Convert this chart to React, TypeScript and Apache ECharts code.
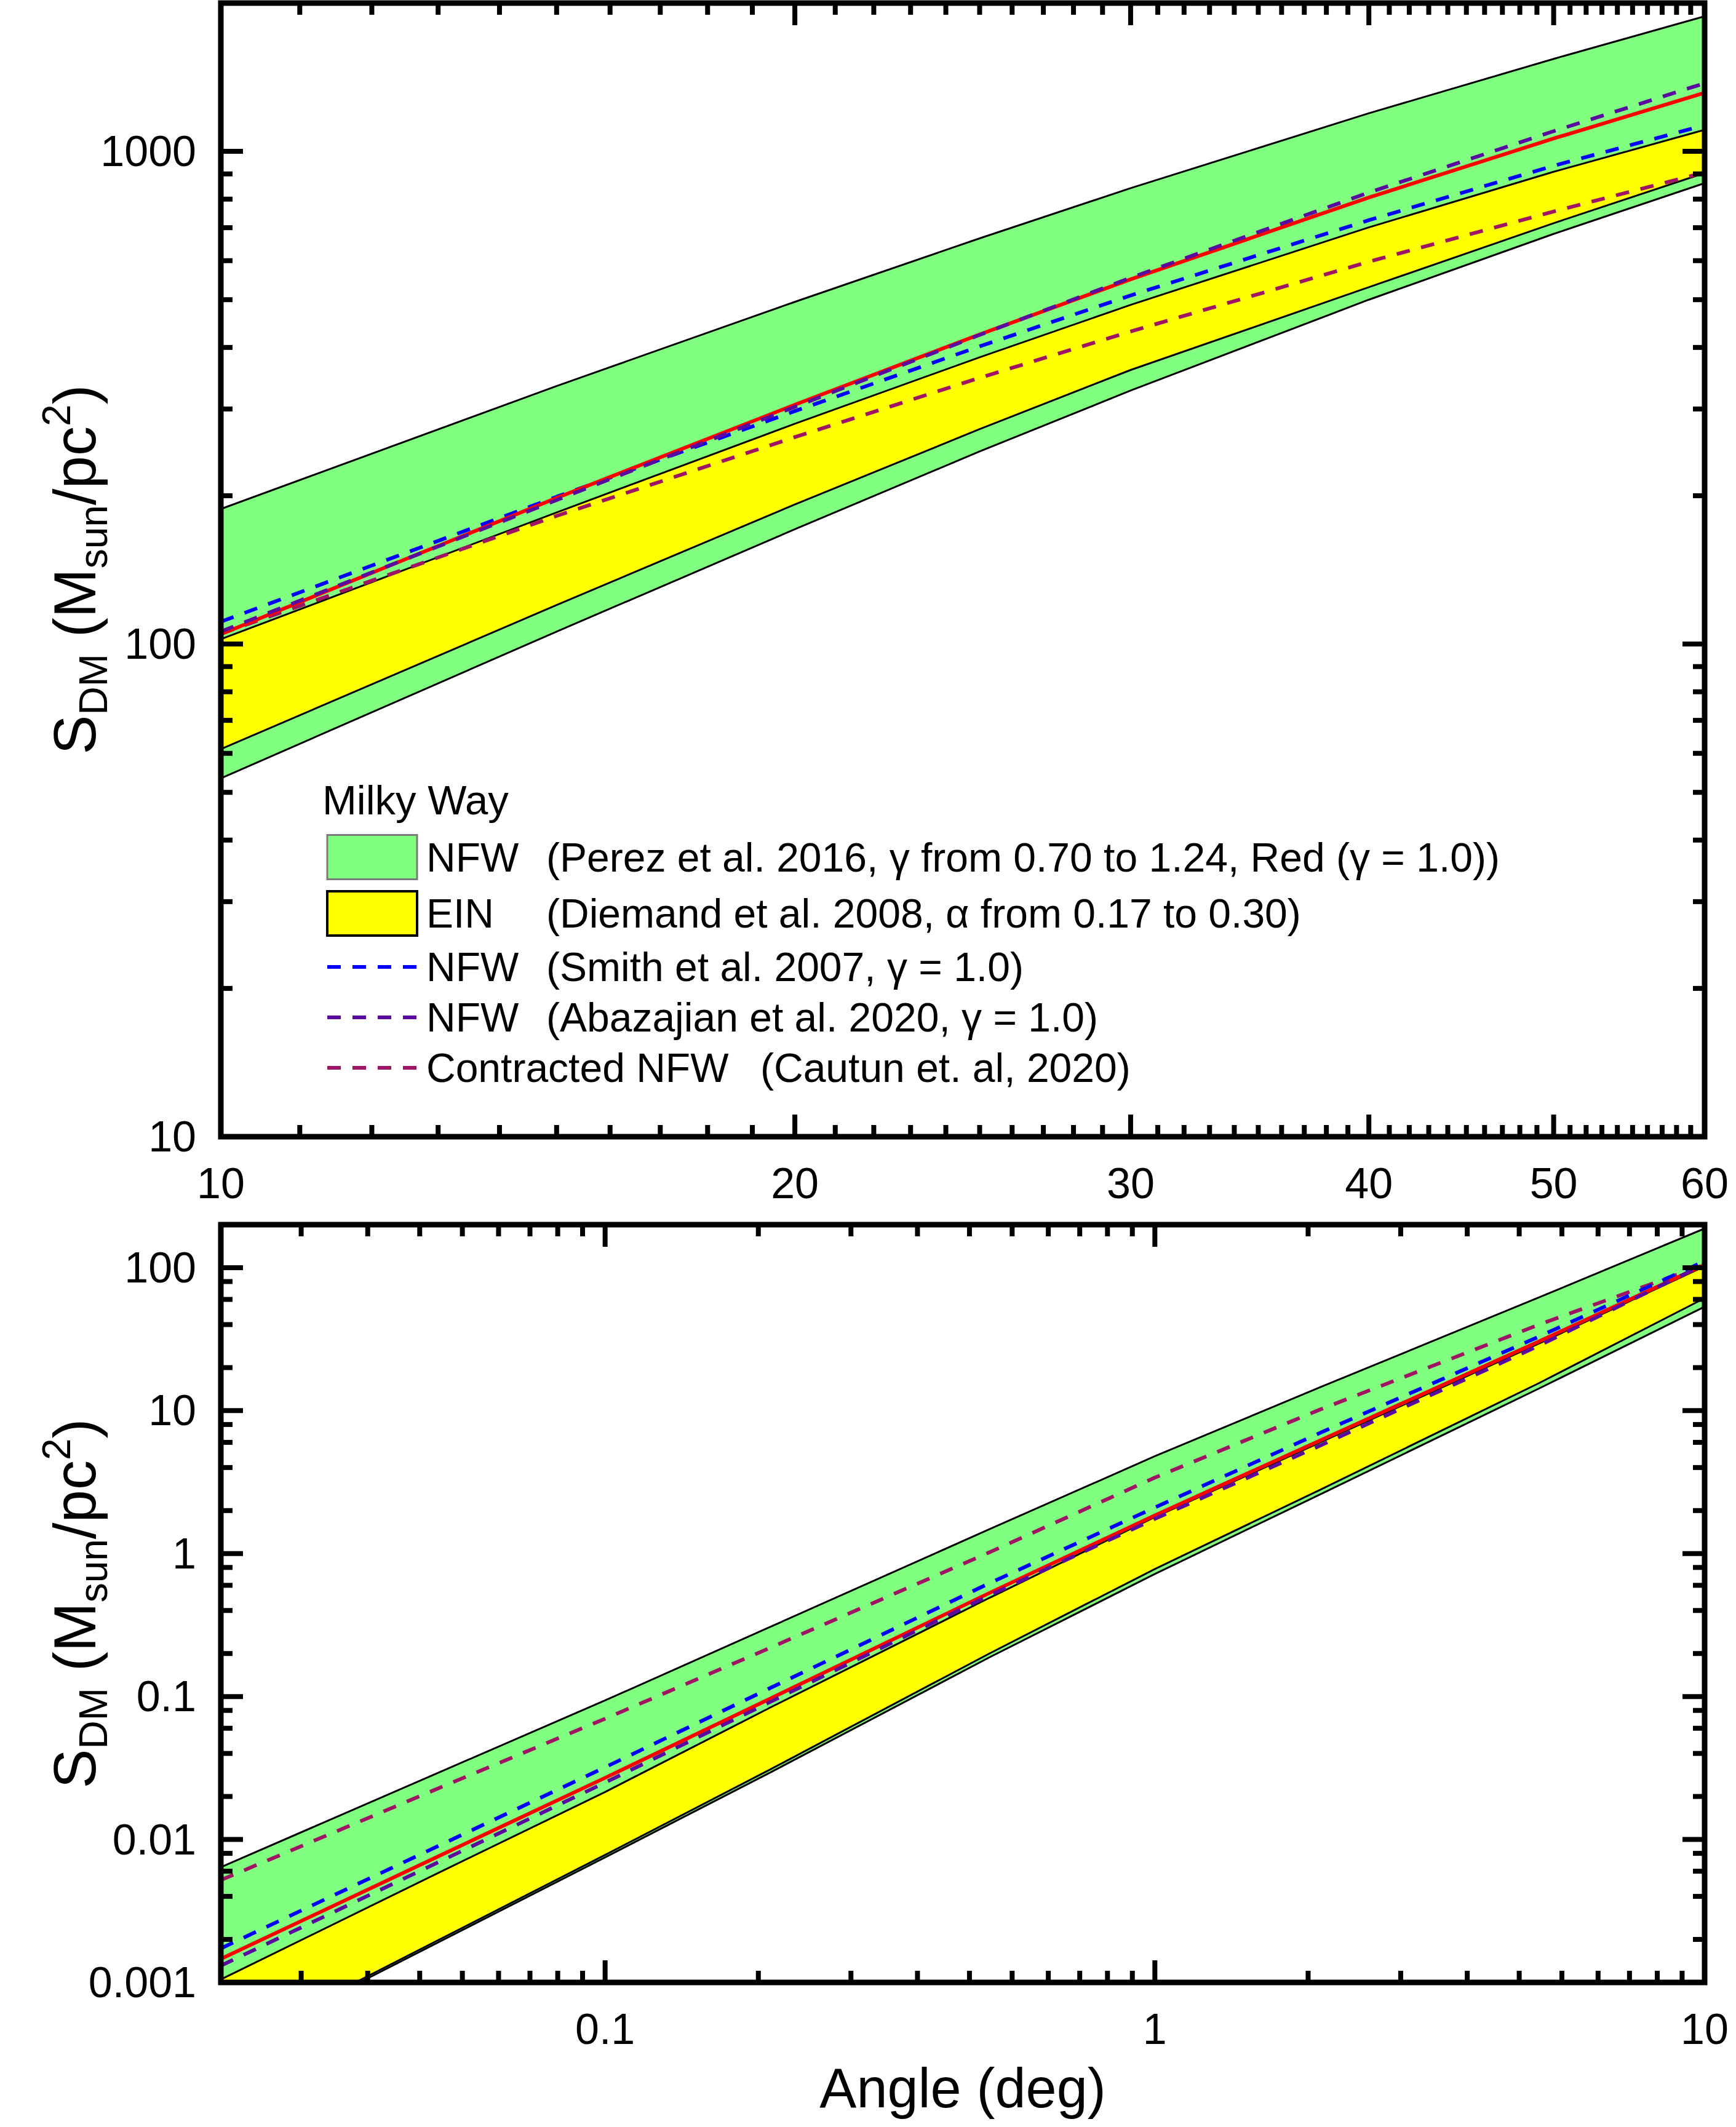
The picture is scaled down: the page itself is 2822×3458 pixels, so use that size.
import React, { useEffect, useRef } from 'react';
import * as echarts from 'echarts';

const FONT = "'Liberation Sans', Arial, Helvetica, sans-serif";

// ---------- top panel (10-60 deg) ----------
const topAngle = [10, 15, 20, 25, 30, 40, 50, 60];
const topNfwHigh = [188, 334, 495, 666, 842, 1195, 1541, 1880];
const topNfwLow = [53.4, 106, 171, 246, 327, 500, 680, 862];
const topEinHigh = [102.3, 185, 280, 382, 488, 701, 909, 1106];
const topEinLow = [61.2, 120, 192, 273, 360, 530, 715, 904];
const topRed = [104.7, 198, 306, 425, 550, 806, 1062, 1315];
const topSmith = [111, 199, 297, 402, 510, 725, 935, 1130];
const topAbaz = [106, 196, 303, 424, 554, 825, 1099, 1375];
const topCautun = [105, 182, 263, 347, 431, 597, 755, 906];

// ---------- bottom panel (0.02-10 deg) ----------
const botAngle = [0.02, 0.05, 0.1, 0.2, 0.5, 1, 2, 5, 10];
const botNfwHigh = [0.0064, 0.0296, 0.094, 0.308, 1.48, 4.8, 14.6, 62, 188];
const botNfwLow = [0.00032, 0.00193, 0.0075, 0.0295, 0.188, 0.72, 2.6, 14.3, 53.4];
const botEinHigh = [0.00105, 0.0059, 0.0215, 0.084, 0.49, 1.8, 6.0, 29.5, 102.3];
const botEinLow = [0.00033, 0.002, 0.0078, 0.031, 0.2, 0.78, 2.8, 15.6, 61.2];
const botRed = [0.00146, 0.0077, 0.027, 0.097, 0.53, 1.85, 6.2, 30.5, 104.7];
const botSmith = [0.00173, 0.0091, 0.032, 0.115, 0.62, 2.1, 7.0, 33, 111];
const botAbaz = [0.00131, 0.007, 0.025, 0.092, 0.51, 1.75, 5.7, 28.5, 106];
const botCautun = [0.0052, 0.023, 0.07, 0.22, 1.02, 3.4, 10.2, 40, 105];

// ---------- axes ----------
const topXMin = 10, topXMax = 60, topYMin = 10, topYMax = 2000;
const botXMin = 0.02, botXMax = 10, botYMin = 0.001, botYMax = 200;

const topXMajor = [10, 20, 30, 40, 50, 60];
const topXLabels = ['10', '20', '30', '40', '50', '60'];
const topXMinor = [11, 12, 13, 14, 15, 16, 17, 18, 19, 21, 22, 23, 24, 25, 26, 27, 28, 29,
  31, 32, 33, 34, 35, 36, 37, 38, 39, 41, 42, 43, 44, 45, 46, 47, 48, 49,
  51, 52, 53, 54, 55, 56, 57, 58, 59];
const topYMajor = [10, 100, 1000];
const topYLabels = ['10', '100', '1000'];
const topYMinor = [20, 30, 40, 50, 60, 70, 80, 90, 200, 300, 400, 500, 600, 700, 800, 900];

const botXMajor = [0.1, 1, 10];
const botXLabels = ['0.1', '1', '10'];
const botXMinor = [0.028, 0.037, 0.046, 0.055, 0.064, 0.073, 0.082, 0.091,
  0.19, 0.28, 0.37, 0.46, 0.55, 0.64, 0.73, 0.82, 0.91,
  1.9, 2.8, 3.7, 4.6, 5.5, 6.4, 7.3, 8.2, 9.1];
const botYMajor = [0.001, 0.01, 0.1, 1, 10, 100];
const botYLabels = ['0.001', '0.01', '0.1', '1', '10', '100'];
const botYMinor = [0.002, 0.004, 0.006, 0.008, 0.02, 0.04, 0.06, 0.08, 0.2, 0.4, 0.6, 0.8,
  2, 4, 6, 8, 20, 40, 60, 80];

// ---------- names ----------
const N_NFW = 'NFW  (Perez et al. 2016, γ from 0.70 to 1.24, Red (γ = 1.0))';
const N_EIN = 'EIN    (Diemand et al. 2008, α from 0.17 to 0.30)';
const N_SMITH = 'NFW  (Smith et al. 2007, γ = 1.0)';
const N_ABAZ = 'NFW  (Abazajian et al. 2020, γ = 1.0)';
const N_CAUTUN = 'Contracted NFW  (Cautun et. al, 2020)';

const C_GREEN = '#80FF80';
const C_YELLOW = '#FFFF00';
const C_RED = '#FF0000';
const C_BLUE = '#0000FF';
const C_PURPLE = '#5A0A9E';
const C_CRIMSON = '#A01464';
const DASH = [22, 19];

const TICK_W = 8;
const MAJOR_LEN = 36;
const MINOR_LEN = 19;
const LABEL_SIZE = 70;
const LEGEND_SIZE = 66;

function pairs(xs: number[], ys: number[]) {
  return xs.map((x, i) => [x, ys[i]]);
}

function bandSeries(name: string, xs: number[], hi: number[], lo: number[], color: string,
  borderColor: string, borderWidth: number, gi: number) {
  return {
    type: 'custom',
    name,
    xAxisIndex: gi,
    yAxisIndex: gi,
    silent: true,
    z: 2,
    data: xs.map((x, i) => [x, hi[i], lo[i]]),
    encode: { x: 0, y: [1, 2] },
    itemStyle: { color, borderColor, borderWidth },
    renderItem: (params: any, api: any) => {
      if (params.dataIndex !== 0) return null;
      const n = xs.length;
      const pts: number[][] = [];
      for (let i = 0; i < n; i++) pts.push(api.coord([api.value(0, i), api.value(1, i)]));
      for (let i = n - 1; i >= 0; i--) pts.push(api.coord([api.value(0, i), api.value(2, i)]));
      const cs = params.coordSys;
      return {
        type: 'polygon',
        shape: { points: pts },
        style: { fill: color },
        clipPath: { type: 'rect', shape: { x: cs.x, y: cs.y, width: cs.width, height: cs.height } },
      };
    },
  };
}

function edgeSeries(xs: number[], ys: number[], gi: number) {
  return {
    type: 'line',
    xAxisIndex: gi,
    yAxisIndex: gi,
    data: pairs(xs, ys),
    symbol: 'none',
    silent: true,
    clip: true,
    z: 3,
    lineStyle: { color: '#000', width: 3 },
  };
}

function curveSeries(name: string, xs: number[], ys: number[], color: string, dashed: boolean, gi: number) {
  return {
    type: 'line',
    name,
    xAxisIndex: gi,
    yAxisIndex: gi,
    data: pairs(xs, ys),
    symbol: 'none',
    silent: true,
    clip: true,
    z: 4,
    itemStyle: { color },
    lineStyle: { color, width: 6, type: dashed ? DASH : 'solid' },
  };
}

function xTicks(gi: number, values: number[], len: number, yMin: number, yMax: number, labels?: string[]) {
  return {
    type: 'custom',
    xAxisIndex: gi,
    yAxisIndex: gi,
    silent: true,
    z: 6,
    data: values.map((v) => [v, yMin]),
    encode: { x: 0, y: 1 },
    renderItem: (params: any, api: any) => {
      const v = api.value(0);
      const b = api.coord([v, yMin]);
      const t = api.coord([v, yMax]);
      const st = { stroke: '#000', lineWidth: TICK_W };
      const kids: any[] = [
        { type: 'line', shape: { x1: b[0], y1: b[1], x2: b[0], y2: b[1] - len }, style: st },
        { type: 'line', shape: { x1: t[0], y1: t[1], x2: t[0], y2: t[1] + len }, style: st },
      ];
      if (labels) {
        kids.push({
          type: 'text',
          x: b[0],
          y: b[1] + 76,
          style: {
            text: labels[params.dataIndex], fontSize: LABEL_SIZE, fontFamily: FONT, fill: '#000',
            align: 'center', verticalAlign: 'middle',
          },
        });
      }
      return { type: 'group', children: kids };
    },
  };
}

function yTicks(gi: number, values: number[], len: number, xMin: number, xMax: number, labels?: string[]) {
  return {
    type: 'custom',
    xAxisIndex: gi,
    yAxisIndex: gi,
    silent: true,
    z: 6,
    data: values.map((v) => [xMin, v]),
    encode: { x: 0, y: 1 },
    renderItem: (params: any, api: any) => {
      const v = api.value(1);
      const l = api.coord([xMin, v]);
      const r = api.coord([xMax, v]);
      const st = { stroke: '#000', lineWidth: TICK_W };
      const kids: any[] = [
        { type: 'line', shape: { x1: l[0], y1: l[1], x2: l[0] + len, y2: l[1] }, style: st },
        { type: 'line', shape: { x1: r[0], y1: r[1], x2: r[0] - len, y2: r[1] }, style: st },
      ];
      if (labels) {
        kids.push({
          type: 'text',
          x: l[0] - 40,
          y: l[1],
          style: {
            text: labels[params.dataIndex], fontSize: LABEL_SIZE, fontFamily: FONT, fill: '#000',
            align: 'right', verticalAlign: 'middle',
          },
        });
      }
      return { type: 'group', children: kids };
    },
  };
}

const hiddenAxis = {
  show: false,
  axisLine: { show: false },
  axisTick: { show: false },
  axisLabel: { show: false },
  splitLine: { show: false },
};

const titleRich = {
  m: { fontSize: 96, fontFamily: FONT, fill: '#000' },
  sub: { fontSize: 64, fontFamily: FONT, fill: '#000', padding: [62, 0, 0, 0] },
  sup: { fontSize: 64, fontFamily: FONT, fill: '#000', padding: [0, 0, 58, 0] },
};
const titleText = '{m|S}{sub|DM}{m| (M}{sub|sun}{m|/pc}{sup|2}{m|)}';

function legendFormatter(name: string) {
  const k = name.indexOf('(');
  const head = name.slice(0, k).trim();
  const rest = name.slice(k);
  if (head === 'Contracted NFW') return '{c|' + head + '}{b|' + rest + '}';
  return '{a|' + head + '}{b|' + rest + '}';
}

const hiddenSymbol = { color: 'rgba(0,0,0,0)', opacity: 0, borderWidth: 0 };

const option: any = {
  animation: false,
  backgroundColor: '#ffffff',
  grid: [
    { left: 359, top: 5, width: 2412, height: 1843, show: true, borderColor: '#000', borderWidth: 9, backgroundColor: 'transparent', z: 10 },
    { left: 359, top: 1991, width: 2412, height: 1232, show: true, borderColor: '#000', borderWidth: 9, backgroundColor: 'transparent', z: 10 },
  ],
  xAxis: [
    { type: 'log', logBase: 10, gridIndex: 0, min: topXMin, max: topXMax, ...hiddenAxis },
    { type: 'log', logBase: 10, gridIndex: 1, min: botXMin, max: botXMax, ...hiddenAxis },
  ],
  yAxis: [
    { type: 'log', logBase: 10, gridIndex: 0, min: topYMin, max: topYMax, ...hiddenAxis },
    { type: 'log', logBase: 10, gridIndex: 1, min: botYMin, max: botYMax, ...hiddenAxis },
  ],
  legend: {
    show: true,
    orient: 'vertical',
    left: 524,
    top: 1351,
    itemWidth: 146,
    itemHeight: 72,
    itemGap: 16,
    selectedMode: false,
    lineStyle: { width: 6 },
    data: [
      { name: N_NFW, icon: 'rect', itemStyle: { color: C_GREEN, borderColor: '#7a7a7a', borderWidth: 3 } },
      { name: N_EIN, icon: 'rect', itemStyle: { color: C_YELLOW, borderColor: '#000', borderWidth: 4 } },
      { name: N_SMITH, itemStyle: hiddenSymbol },
      { name: N_ABAZ, itemStyle: hiddenSymbol },
      { name: N_CAUTUN, itemStyle: hiddenSymbol },
    ],
    formatter: legendFormatter,
    textStyle: {
      fontSize: LEGEND_SIZE,
      fontFamily: FONT,
      color: '#000',
      rich: {
        a: { fontSize: LEGEND_SIZE, fontFamily: FONT, color: '#000', width: 195, padding: [0, 0, 0, 10] },
        c: { fontSize: LEGEND_SIZE, fontFamily: FONT, color: '#000', width: 543, padding: [0, 0, 0, 10] },
        b: { fontSize: LEGEND_SIZE, fontFamily: FONT, color: '#000' },
      },
    },
  },
  graphic: [
    {
      type: 'text', x: 524, y: 1300, silent: true,
      style: { text: 'Milky Way', fontSize: 67, fontFamily: FONT, fill: '#000', align: 'left', verticalAlign: 'middle' },
    },
    {
      type: 'text', x: 121, y: 926, rotation: Math.PI / 2, silent: true,
      style: { text: titleText, rich: titleRich, fontSize: 96, fontFamily: FONT, fill: '#000', align: 'center', verticalAlign: 'middle' },
    },
    {
      type: 'text', x: 121, y: 2607, rotation: Math.PI / 2, silent: true,
      style: { text: titleText, rich: titleRich, fontSize: 96, fontFamily: FONT, fill: '#000', align: 'center', verticalAlign: 'middle' },
    },
    {
      type: 'text', x: 1565, y: 3395, silent: true,
      style: { text: 'Angle (deg)', fontSize: 90, fontFamily: FONT, fill: '#000', align: 'center', verticalAlign: 'middle' },
    },
  ],
  series: [
    // top panel
    bandSeries(N_NFW, topAngle, topNfwHigh, topNfwLow, C_GREEN, '#7a7a7a', 3, 0),
    bandSeries(N_EIN, topAngle, topEinHigh, topEinLow, C_YELLOW, '#000', 4, 0),
    edgeSeries(topAngle, topNfwHigh, 0),
    edgeSeries(topAngle, topNfwLow, 0),
    edgeSeries(topAngle, topEinHigh, 0),
    edgeSeries(topAngle, topEinLow, 0),
    curveSeries(N_CAUTUN, topAngle, topCautun, C_CRIMSON, true, 0),
    curveSeries(N_SMITH, topAngle, topSmith, C_BLUE, true, 0),
    curveSeries('NFW γ = 1.0 (Perez)', topAngle, topRed, C_RED, false, 0),
    curveSeries(N_ABAZ, topAngle, topAbaz, C_PURPLE, true, 0),
    // bottom panel
    bandSeries(N_NFW, botAngle, botNfwHigh, botNfwLow, C_GREEN, '#7a7a7a', 3, 1),
    bandSeries(N_EIN, botAngle, botEinHigh, botEinLow, C_YELLOW, '#000', 4, 1),
    edgeSeries(botAngle, botNfwHigh, 1),
    edgeSeries(botAngle, botNfwLow, 1),
    edgeSeries(botAngle, botEinHigh, 1),
    edgeSeries(botAngle, botEinLow, 1),
    curveSeries(N_CAUTUN, botAngle, botCautun, C_CRIMSON, true, 1),
    curveSeries(N_SMITH, botAngle, botSmith, C_BLUE, true, 1),
    curveSeries('NFW γ = 1.0 (Perez)', botAngle, botRed, C_RED, false, 1),
    curveSeries(N_ABAZ, botAngle, botAbaz, C_PURPLE, true, 1),
    // ticks & labels
    xTicks(0, topXMajor, MAJOR_LEN, topYMin, topYMax, topXLabels),
    xTicks(0, topXMinor, MINOR_LEN, topYMin, topYMax),
    yTicks(0, topYMajor, MAJOR_LEN, topXMin, topXMax, topYLabels),
    yTicks(0, topYMinor, MINOR_LEN, topXMin, topXMax),
    xTicks(1, botXMajor, MAJOR_LEN, botYMin, botYMax, botXLabels),
    xTicks(1, botXMinor, MINOR_LEN, botYMin, botYMax),
    yTicks(1, botYMajor, MAJOR_LEN, botXMin, botXMax, botYLabels),
    yTicks(1, botYMinor, MINOR_LEN, botXMin, botXMax),
  ],
};

export default function App() {
  const ref = useRef<HTMLDivElement>(null);
  useEffect(() => {
    if (!ref.current) return;
    const chart = echarts.init(ref.current, null, { renderer: 'svg' });
    chart.setOption(option);
    return () => chart.dispose();
  }, []);
  return (
    <div
      ref={ref}
      style={{ position: 'fixed', left: 0, top: 0, width: 2822, height: 3458, background: '#fff' }}
    />
  );
}
